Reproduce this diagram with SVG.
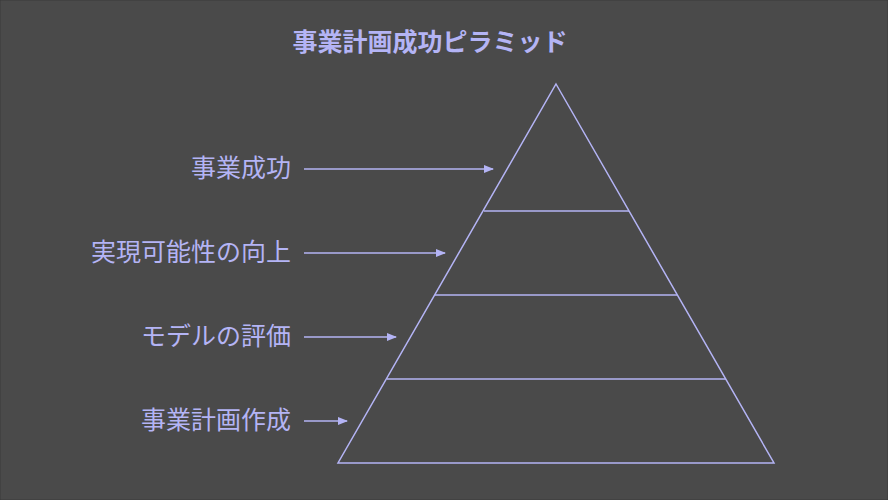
<svg xmlns="http://www.w3.org/2000/svg" width="888" height="500" viewBox="0 0 888 500">
<style>
.t{font-family:"Liberation Sans","Noto Sans CJK JP",sans-serif;fill:#b4b4f5;font-size:25px;text-anchor:end}
.s{stroke:#b4b4f5;stroke-width:1.5;fill:none}
</style>
<defs><marker id="a" markerWidth="10" markerHeight="10" refX="9" refY="5" orient="auto" markerUnits="userSpaceOnUse"><path d="M0,1 L10,5 L0,9 Z" fill="#b4b4f5"/></marker></defs>
<rect x="0" y="0" width="888" height="500" fill="#4a4a4a" stroke="#3a3a3a"/>
<text x="430" y="51" style="font-family:'Liberation Sans','Noto Sans CJK JP',sans-serif;fill:#b4b4f5;font-size:25px;font-weight:bold;text-anchor:middle">事業計画成功ピラミッド</text>
<g id="pyramid">
<path class="s" d="M556,84 L774,463 L338,463 Z"/>
<line class="s" x1="484" y1="211" x2="629" y2="211"/>
<line class="s" x1="435" y1="295" x2="677" y2="295"/>
<line class="s" x1="387" y1="379" x2="726" y2="379"/>
</g>
<g id="label1"><text class="t" x="291" y="177">事業成功</text></g>
<g id="label2"><text class="t" x="291" y="261">実現可能性の向上</text></g>
<g id="label3"><text class="t" x="291" y="345">モデルの評価</text></g>
<g id="label4"><text class="t" x="291" y="429">事業計画作成</text></g>
<g id="connectors">
<line class="s" x1="304" y1="169" x2="493" y2="169" marker-end="url(#a)"/>
<line class="s" x1="304" y1="253" x2="445" y2="253" marker-end="url(#a)"/>
<line class="s" x1="304" y1="337" x2="396" y2="337" marker-end="url(#a)"/>
<line class="s" x1="304" y1="421" x2="347" y2="421" marker-end="url(#a)"/>
</g>
</svg>
